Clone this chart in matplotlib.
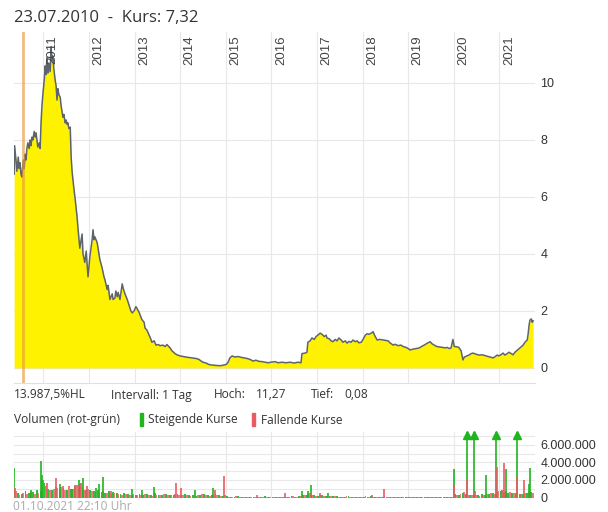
import numpy as np
import pandas as pd
import matplotlib
matplotlib.use("Agg")
import matplotlib.pyplot as plt
from matplotlib.patches import Rectangle
from matplotlib.ticker import FuncFormatter, MultipleLocator

# Kursverlauf (Dezimaljahr, Kurs in EUR)
price_year = [
    2010.36, 2010.37, 2010.40, 2010.42, 2010.45, 2010.47, 2010.49, 2010.51, 2010.53, 2010.56,
    2010.58, 2010.60, 2010.62, 2010.64, 2010.66, 2010.69, 2010.71, 2010.73, 2010.75, 2010.77,
    2010.80, 2010.82, 2010.84, 2010.86, 2010.88, 2010.91, 2010.93, 2010.95, 2010.97, 2010.99,
    2011.02, 2011.04, 2011.06, 2011.08, 2011.10, 2011.12, 2011.15, 2011.17, 2011.19, 2011.21,
    2011.23, 2011.26, 2011.28, 2011.30, 2011.32, 2011.34, 2011.37, 2011.39, 2011.41, 2011.43,
    2011.45, 2011.48, 2011.50, 2011.52, 2011.54, 2011.56, 2011.59, 2011.61, 2011.63, 2011.65,
    2011.67, 2011.70, 2011.72, 2011.74, 2011.76, 2011.80, 2011.85, 2011.87, 2011.91, 2011.94,
    2011.98, 2012.02, 2012.07, 2012.09, 2012.11, 2012.13, 2012.18, 2012.20, 2012.24, 2012.29,
    2012.33, 2012.35, 2012.40, 2012.42, 2012.46, 2012.51, 2012.53, 2012.57, 2012.59, 2012.62,
    2012.64, 2012.68, 2012.73, 2012.75, 2012.79, 2012.84, 2012.88, 2012.92, 2012.95, 2012.99,
    2013.03, 2013.05, 2013.10, 2013.16, 2013.21, 2013.23, 2013.27, 2013.32, 2013.36, 2013.38,
    2013.43, 2013.47, 2013.52, 2013.56, 2013.62, 2013.67, 2013.71, 2013.78, 2013.82, 2013.89,
    2013.93, 2014.00, 2014.06, 2014.13, 2014.22, 2014.28, 2014.35, 2014.41, 2014.46, 2014.50,
    2014.57, 2014.63, 2014.70, 2014.76, 2014.83, 2014.90, 2014.96, 2015.01, 2015.05, 2015.09,
    2015.14, 2015.20, 2015.27, 2015.34, 2015.40, 2015.47, 2015.53, 2015.60, 2015.66, 2015.73,
    2015.80, 2015.86, 2015.93, 2015.99, 2016.08, 2016.15, 2016.23, 2016.32, 2016.41, 2016.50,
    2016.58, 2016.65, 2016.67, 2016.74, 2016.78, 2016.80, 2016.85, 2016.89, 2016.94, 2016.98,
    2017.02, 2017.07, 2017.11, 2017.16, 2017.20, 2017.22, 2017.27, 2017.31, 2017.35, 2017.40,
    2017.44, 2017.48, 2017.53, 2017.57, 2017.62, 2017.66, 2017.70, 2017.75, 2017.79, 2017.84,
    2017.88, 2017.92, 2017.97, 2018.01, 2018.06, 2018.10, 2018.14, 2018.19, 2018.23, 2018.27,
    2018.32, 2018.38, 2018.45, 2018.52, 2018.56, 2018.60, 2018.67, 2018.71, 2018.78, 2018.84,
    2018.89, 2018.95, 2019.00, 2019.04, 2019.11, 2019.17, 2019.24, 2019.28, 2019.35, 2019.41,
    2019.48, 2019.52, 2019.57, 2019.63, 2019.70, 2019.76, 2019.81, 2019.85, 2019.90, 2019.94,
    2019.98, 2020.01, 2020.07, 2020.11, 2020.16, 2020.20, 2020.23, 2020.29, 2020.33, 2020.38,
    2020.42, 2020.49, 2020.55, 2020.62, 2020.69, 2020.75, 2020.80, 2020.86, 2020.91, 2020.95,
    2020.99, 2021.04, 2021.08, 2021.12, 2021.17, 2021.21, 2021.26, 2021.30, 2021.34, 2021.39,
    2021.43, 2021.48, 2021.52, 2021.56, 2021.61, 2021.63, 2021.65, 2021.67, 2021.70, 2021.72,
    2021.74,
]
price_eur = [
    6.8, 7.8, 7.3, 6.9, 7.4, 7.0, 7.2, 6.8, 6.7, 7.3,
    7.0, 7.5, 7.3, 7.7, 7.9, 7.7, 8.0, 7.8, 8.1, 8.0,
    8.3, 8.1, 8.25, 8.0, 7.75, 7.9, 7.7, 8.6, 9.2, 9.6,
    10.1, 10.6, 10.3, 10.9, 10.35, 10.7, 10.4, 11.27, 10.8, 10.95,
    10.5, 10.1, 9.9, 9.4, 9.8, 9.6, 9.5, 9.2, 9.0, 8.8,
    8.9, 8.6, 8.7, 8.55, 8.6, 8.4, 8.45, 7.4, 6.9, 6.6,
    6.3, 5.9, 5.6, 5.3, 4.9, 4.2, 4.7, 4.0, 3.7, 4.1,
    3.2, 3.9, 4.5, 4.85, 4.5, 4.6, 4.4, 4.2, 3.8, 3.5,
    3.2, 3.1, 2.75, 2.9, 2.4, 2.6, 2.4, 2.45, 2.7, 2.5,
    2.65, 2.4, 2.95, 2.8, 2.6, 2.4, 2.2, 2.0, 1.93, 2.0,
    2.15, 2.1, 1.95, 1.7, 1.6, 1.4, 1.33, 1.15, 1.0, 0.9,
    0.95, 0.8, 0.82, 0.78, 0.8, 0.75, 0.82, 0.7, 0.6, 0.5,
    0.46, 0.42, 0.4, 0.38, 0.36, 0.35, 0.33, 0.3, 0.24, 0.2,
    0.17, 0.12, 0.1, 0.09, 0.08, 0.08, 0.1, 0.12, 0.2, 0.35,
    0.42, 0.38, 0.4, 0.37, 0.35, 0.33, 0.3, 0.24, 0.27, 0.23,
    0.22, 0.2, 0.18, 0.2, 0.22, 0.18, 0.2, 0.18, 0.2, 0.17,
    0.2, 0.18, 0.5, 0.52, 0.55, 0.9, 0.95, 1.05, 1.0, 1.1,
    1.15, 1.22, 1.18, 1.1, 1.15, 1.05, 1.02, 0.95, 0.92, 1.0,
    0.95, 1.05, 0.98, 0.9, 0.95, 0.87, 0.93, 0.9, 0.98, 0.92,
    0.95, 0.88, 0.9, 1.0, 1.15, 1.2, 1.18, 1.22, 1.27, 1.12,
    0.98, 1.0, 0.98, 0.96, 0.95, 0.88, 0.8, 0.83, 0.78, 0.8,
    0.75, 0.72, 0.68, 0.63, 0.66, 0.68, 0.7, 0.74, 0.8, 0.86,
    0.92, 0.85, 0.8, 0.75, 0.73, 0.72, 0.7, 0.72, 0.68, 0.7,
    1.0, 0.75, 0.74, 0.72, 0.6, 0.28, 0.38, 0.42, 0.45, 0.5,
    0.52, 0.48, 0.45, 0.46, 0.43, 0.4, 0.38, 0.35, 0.4, 0.45,
    0.42, 0.47, 0.52, 0.45, 0.5, 0.55, 0.5, 0.46, 0.55, 0.62,
    0.68, 0.75, 0.8, 0.9, 0.98, 1.2, 1.5, 1.68, 1.72, 1.6,
    1.65,
]

# Volumen: typische Monatswerte (Mio. Stueck), Mai 2010 bis Sep 2021
vol_up_month = [
    0.9, 0.5, 0.4, 0.7, 0.5, 0.6, 0.8, 0.7,
    1.6, 1.0, 0.9, 1.2, 0.8, 1.1, 0.9, 1.0, 1.3, 1.1, 1.2, 0.9,
    0.8, 0.7, 0.9, 0.6, 0.5, 0.7, 0.6, 0.5, 0.4, 0.5, 0.4, 0.3,
    0.3, 0.4, 0.3, 0.4, 0.3, 0.5, 0.3, 0.3, 0.4, 0.3, 0.3, 0.4,
    0.3, 0.4, 0.3, 0.3, 0.2, 0.3, 0.4, 0.3, 0.3, 0.4, 0.3, 0.2,
    0.15, 0.1, 0.1, 0.15, 0.1, 0.08, 0.1, 0.1, 0.08, 0.1, 0.12, 0.1,
    0.1, 0.1, 0.08, 0.1, 0.1, 0.15, 0.1, 0.2, 0.3, 0.3, 0.35, 0.25,
    0.2, 0.25, 0.2, 0.15, 0.2, 0.15, 0.1, 0.1, 0.12, 0.1, 0.1, 0.1,
    0.1, 0.1, 0.12, 0.1, 0.08, 0.1, 0.1, 0.08, 0.1, 0.08, 0.06, 0.08,
    0.06, 0.05, 0.06, 0.05, 0.05, 0.06, 0.05, 0.05, 0.06, 0.05, 0.06, 0.08,
    0.4, 0.3, 0.5, 0.4, 0.3, 0.3, 0.3, 0.4, 0.3, 0.4, 0.5, 0.6,
    0.7, 0.6, 0.5, 0.5, 0.5, 0.4, 0.4, 0.5, 0.6,
]
vol_down_month = [
    0.7, 0.3, 0.5, 0.4, 0.6, 0.4, 0.5, 0.9,
    1.3, 0.9, 1.0, 1.1, 1.2, 0.8, 1.3, 1.0, 1.4, 1.5, 0.8, 1.0,
    0.7, 0.6, 0.5, 0.7, 0.5, 0.4, 0.5, 0.4, 0.3, 0.4, 0.3, 0.4,
    0.3, 0.3, 0.4, 0.3, 0.2, 0.3, 0.3, 0.4, 0.3, 0.3, 0.4, 0.3,
    0.3, 0.3, 0.2, 0.3, 0.3, 0.4, 0.3, 0.2, 0.3, 0.3, 0.2, 0.3,
    0.1, 0.1, 0.12, 0.08, 0.1, 0.1, 0.08, 0.1, 0.1, 0.08, 0.1, 0.1,
    0.1, 0.08, 0.1, 0.08, 0.1, 0.12, 0.1, 0.15, 0.3, 0.35, 0.25, 0.2,
    0.25, 0.2, 0.2, 0.2, 0.15, 0.1, 0.1, 0.12, 0.1, 0.1, 0.1, 0.08,
    0.12, 0.1, 0.1, 0.1, 0.1, 0.12, 0.08, 0.1, 0.08, 0.08, 0.06, 0.06,
    0.05, 0.06, 0.05, 0.05, 0.06, 0.05, 0.05, 0.06, 0.05, 0.05, 0.06, 0.08,
    0.3, 0.4, 0.6, 0.3, 0.3, 0.3, 0.2, 0.3, 0.4, 0.5, 0.4, 0.7,
    0.8, 0.7, 0.6, 0.5, 0.5, 0.4, 0.5, 0.6, 0.5,
]

# Einzelne Ausreisser (Dezimaljahr, Mio. Stueck, steigend?)
spike_year = [
    2010.36, 2010.38, 2010.74, 2010.94, 2010.97, 2011.00, 2011.07, 2011.28, 2011.37, 2011.44,
    2011.62, 2011.70, 2011.77, 2011.79, 2011.82, 2011.86, 2011.95, 2012.16, 2012.22, 2012.30,
    2012.48, 2012.94, 2013.17, 2013.42, 2013.91, 2014.02, 2014.33, 2014.73, 2014.76, 2014.96,
    2015.68, 2016.30, 2016.67, 2016.81, 2016.85, 2016.87, 2017.07, 2017.24, 2018.20, 2018.46,
    2020.00, 2020.01, 2020.28, 2020.29, 2020.45, 2020.46, 2020.70, 2020.93, 2020.94, 2021.05,
    2021.11, 2021.14, 2021.38, 2021.39, 2021.54, 2021.64, 2021.67,
]
spike_mio = [
    3.4, 1.1, 0.9, 4.2, 2.6, 2.0, 1.65, 2.2, 1.5, 1.3,
    1.0, 1.45, 1.45, 2.0, 1.65, 2.2, 1.3, 1.1, 1.5, 2.35,
    0.7, 1.0, 0.9, 1.15, 1.65, 1.1, 0.9, 1.1, 0.8, 2.4,
    0.3, 0.5, 0.77, 0.7, 0.5, 1.45, 0.5, 0.5, 0.3, 0.95,
    1.45, 3.2, 12.0, 2.0, 9.5, 0.7, 2.6, 11.0, 3.45, 0.9,
    3.95, 3.2, 10.0, 2.3, 2.0, 1.5, 3.3,
]
spike_up = [
    True, False, True, True, True, True, False, False, True, False,
    True, False, False, True, False, True, False, True, True, True,
    False, True, True, True, False, False, True, True, False, False,
    False, False, True, True, False, True, False, True, False, False,
    False, True, True, False, True, False, True, True, False, False,
    False, True, True, False, False, True, True,
]

years = list(range(2011, 2022))
kurs_ticks = [0, 2, 4, 6, 8, 10]
cursor_year = 2010.558

GREEN = "#1fb51f"
RED = "#ea5a64"
GRID = "#e8e8e8"
TXT = "#333333"

W, H = 608, 512
fig = plt.figure(figsize=(W / 100, H / 100), dpi=100)


def fx(px):
    return px / W


def fy(py):
    return 1 - py / H


# ---- Kurs-Chart ----
ax = fig.add_axes([fx(14), fy(383), fx(521), 351 / H])
ax.set_xlim(2010.357, 2021.78)
ax.set_ylim(-0.53, 11.79)
ax.fill_between(price_year, price_eur, 0, color="#fff200", lw=0, zorder=2)
ax.plot(price_year, price_eur, color="#5d646b", lw=1.1, zorder=3)
ax.axvline(cursor_year, color="#e89a3c", alpha=0.65, lw=2, zorder=4)

ax.set_xticks(years)
ax.set_yticks(kurs_ticks)
ax.grid(color=GRID, lw=0.8, zorder=0)
ax.set_axisbelow(True)
ax.tick_params(axis="x", length=0, labelbottom=False)
ax.yaxis.tick_right()
ax.tick_params(axis="y", length=0, pad=4, labelsize=9, labelcolor=TXT)
for lab in ax.get_yticklabels():
    lab.set_family("Liberation Sans")
for s in ["top", "left", "right"]:
    ax.spines[s].set_visible(False)
ax.spines["bottom"].set_color("#e0e0e0")

for yr in years:
    ax.annotate(str(yr), xy=(yr, 1), xycoords=("data", "axes fraction"),
                xytext=(2.5, -2.5), textcoords="offset points",
                rotation=90, ha="left", va="top", fontsize=9.5,
                color="#444444", family="Liberation Sans")

# ---- Volumen-Chart ----
vax = fig.add_axes([fx(14), fy(497.5), fx(521), 65.5 / H])
vax.set_xlim(2010.357, 2021.78)
top = 7.45
vax.set_ylim(0, top)

months = pd.date_range("2010-05-01", periods=len(vol_up_month), freq="MS")
mpos = np.array([d.year + (d.month - 1) / 12 for d in months])
vax.bar(mpos + 0.004, vol_up_month, width=0.042, color=GREEN, lw=0, alpha=0.9,
        align="edge", zorder=2)
vax.bar(mpos + 0.042, vol_down_month, width=0.04, color=RED, lw=0, alpha=0.8,
        align="edge", zorder=2)

up_x = [y for y, u in zip(spike_year, spike_up) if u]
up_v = [v for v, u in zip(spike_mio, spike_up) if u]
dn_x = [y for y, u in zip(spike_year, spike_up) if not u]
dn_v = [v for v, u in zip(spike_mio, spike_up) if not u]
vax.vlines(up_x, 0, up_v, color=GREEN, lw=1.2, zorder=3)
vax.vlines(dn_x, 0, dn_v, color=RED, lw=1.2, zorder=3)
over = [y for y, v in zip(spike_year, spike_mio) if v > top]
vax.plot(over, [top - 0.35] * len(over), ls="none", marker="^", ms=6,
         color=GREEN, clip_on=False, zorder=4)

vax.set_xticks(years)
vax.yaxis.set_major_locator(MultipleLocator(2))
vax.yaxis.set_minor_locator(MultipleLocator(1))
vax.yaxis.set_major_formatter(FuncFormatter(lambda v, p: f"{int(v * 1e6):,}".replace(",", ".")))
vax.grid(which="both", color=GRID, lw=0.8, zorder=0)
vax.set_axisbelow(True)
vax.tick_params(axis="x", length=0, labelbottom=False)
vax.yaxis.tick_right()
vax.tick_params(axis="y", which="both", length=0, pad=4, labelsize=9, labelcolor=TXT)
for lab in vax.get_yticklabels():
    lab.set_family("Liberation Sans")
for s in vax.spines.values():
    s.set_visible(False)

# ---- Texte ----
fig.text(fx(14), fy(18), "23.07.2010  -  Kurs: 7,32", fontsize=12, color=TXT,
         family="Open Sans", va="center")

info = [(14, "13.987,5%HL"), (111, "Intervall: 1 Tag"), (214, "Hoch:"),
        (256, "11,27"), (311, "Tief:"), (344, "0,08")]
for px, s in info:
    fig.text(fx(px), fy(395), s, fontsize=8.6, color=TXT, family="Open Sans", va="center")

fig.text(fx(14), fy(420), "Volumen (rot-grün)", fontsize=8.6, color=TXT,
         family="Open Sans", va="center")
fig.add_artist(Rectangle((fx(140), fy(426)), 3 / W, 13 / H, color=GREEN, transform=fig.transFigure))
fig.text(fx(148), fy(420), "Steigende Kurse", fontsize=8.6, color=TXT,
         family="Open Sans", va="center")
fig.add_artist(Rectangle((fx(252), fy(426)), 3 / W, 13 / H, color=RED, transform=fig.transFigure))
fig.text(fx(261), fy(420), "Fallende Kurse", fontsize=8.6, color=TXT,
         family="Open Sans", va="center")

fig.text(fx(13), fy(500), "01.10.2021 22:10 Uhr", fontsize=8.6, color="#aaaaaa",
         family="Open Sans", va="top")

fig.savefig("out.png", dpi=100)
